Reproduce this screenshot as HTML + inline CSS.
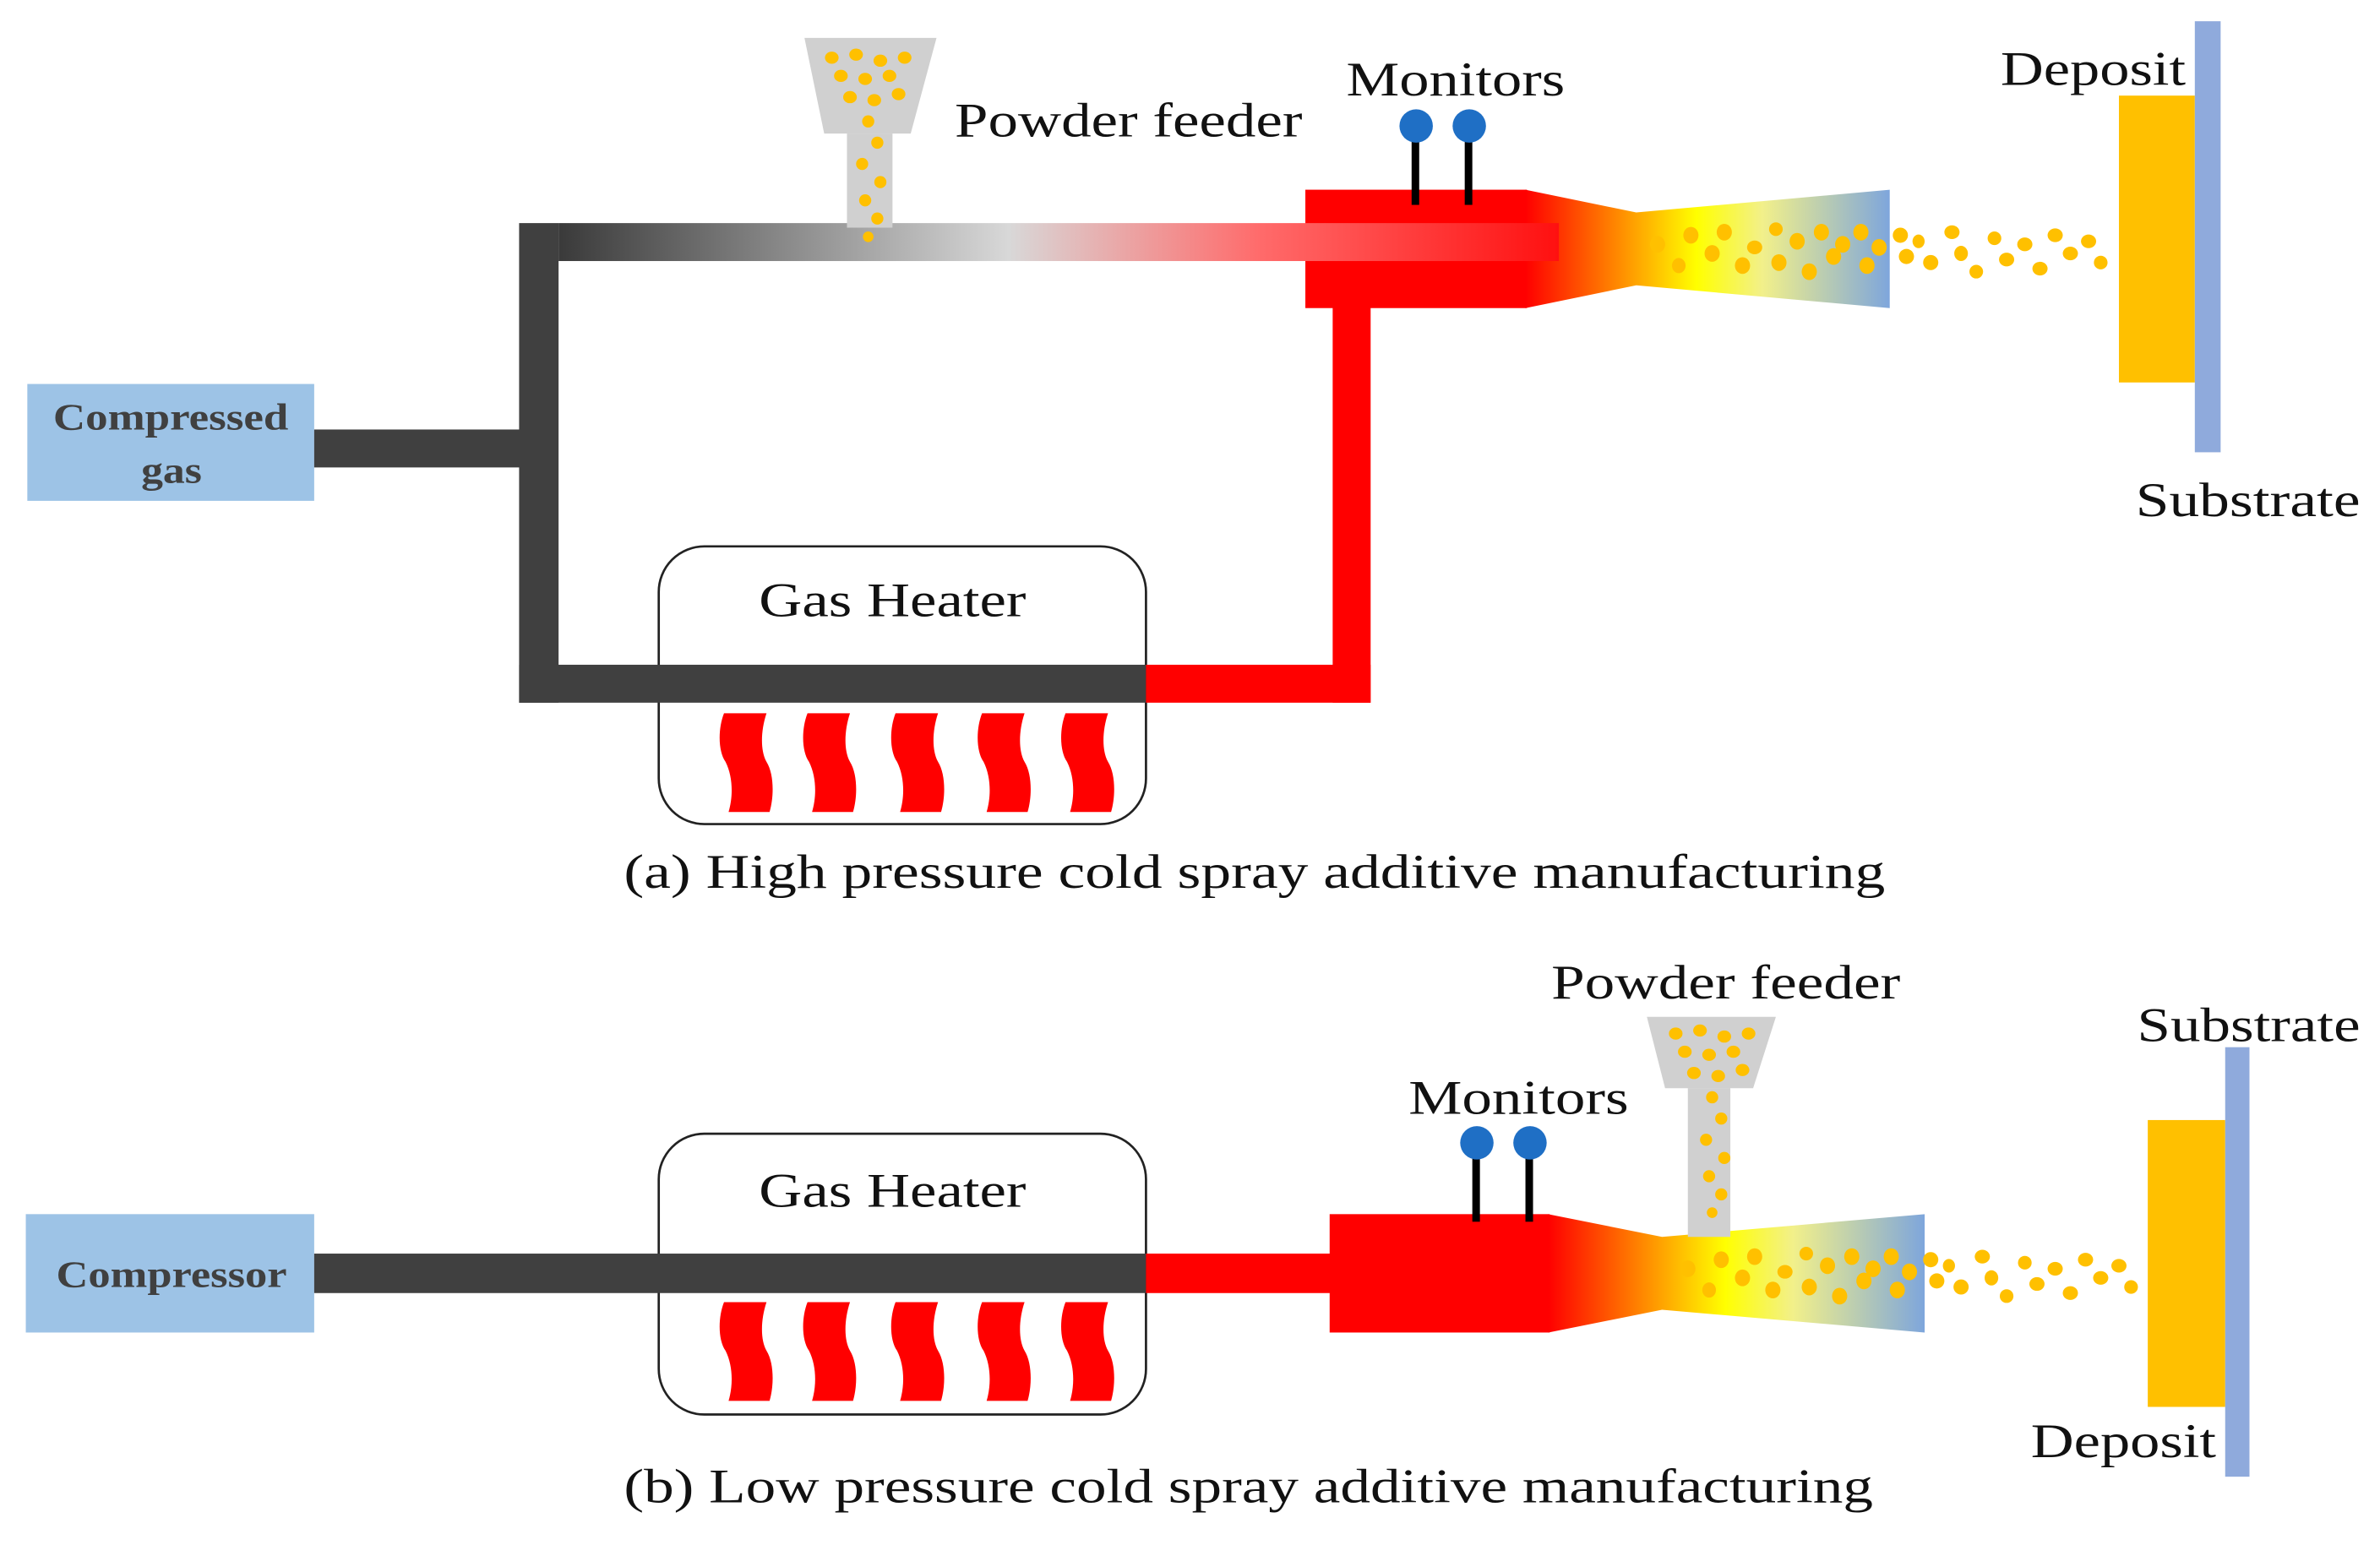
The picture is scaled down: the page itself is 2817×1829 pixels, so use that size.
<!DOCTYPE html>
<html><head><meta charset="utf-8"><style>
html,body{margin:0;padding:0;background:#fff}
svg{display:block}
text{font-family:"Liberation Serif",serif;fill:#111}
</style></head><body>
<svg width="2817" height="1829" viewBox="0 0 1568 1018" preserveAspectRatio="none" xmlns="http://www.w3.org/2000/svg">
<defs>
<linearGradient id="pipeA" x1="0" x2="1" y1="0" y2="0">
<stop offset="0" stop-color="#3a3a3a"/><stop offset="0.45" stop-color="#d8d8d8"/><stop offset="0.7" stop-color="#ff6b6b"/><stop offset="1" stop-color="#ff1010"/>
</linearGradient>
<linearGradient id="noz" x1="0" x2="1" y1="0" y2="0">
<stop offset="0" stop-color="#ff0000"/><stop offset="0.47" stop-color="#ffff00"/><stop offset="0.65" stop-color="#f2f08a"/><stop offset="1" stop-color="#7ea6dc"/>
</linearGradient>
<path id="fl" d="M2,0 L30,0 C26,12 26,25 30,32 C35,40 35,55 32,65 L5,65 C8,55 8,42 3,32 C-2,25 -2,10 2,0 Z" fill="#ff0000"/>
<g id="dots" fill="#ffc000">
<ellipse cx="0" cy="-4" rx="5" ry="5.5"/><ellipse cx="14" cy="10" rx="4.5" ry="5"/><ellipse cx="22" cy="-10" rx="5" ry="5.5"/><ellipse cx="36" cy="2" rx="5" ry="5.5"/><ellipse cx="44" cy="-12" rx="5" ry="5.5"/><ellipse cx="56" cy="10" rx="5" ry="5.5"/><ellipse cx="64" cy="-2" rx="5" ry="4.5"/><ellipse cx="78" cy="-14" rx="4.5" ry="4.5"/><ellipse cx="80" cy="8" rx="5" ry="5.5"/><ellipse cx="92" cy="-6" rx="5" ry="5.5"/><ellipse cx="100" cy="14" rx="5" ry="5.5"/><ellipse cx="108" cy="-12" rx="5" ry="5.5"/><ellipse cx="116" cy="4" rx="5" ry="5.5"/><ellipse cx="122" cy="-4" rx="5" ry="5.5"/><ellipse cx="134" cy="-12" rx="5" ry="5.5"/><ellipse cx="138" cy="10" rx="5" ry="5.5"/><ellipse cx="146" cy="-2" rx="5" ry="5.5"/><ellipse cx="160" cy="-10" rx="5" ry="5"/><ellipse cx="164" cy="4" rx="5" ry="5"/><ellipse cx="172" cy="-6" rx="4" ry="4.5"/><ellipse cx="180" cy="8" rx="5" ry="5"/><ellipse cx="194" cy="-12" rx="5" ry="4.5"/><ellipse cx="200" cy="2" rx="4.5" ry="5"/><ellipse cx="210" cy="14" rx="4.5" ry="4.5"/><ellipse cx="222" cy="-8" rx="4.5" ry="4.5"/><ellipse cx="230" cy="6" rx="5" ry="4.5"/><ellipse cx="242" cy="-4" rx="5" ry="4.5"/><ellipse cx="252" cy="12" rx="5" ry="4.5"/><ellipse cx="262" cy="-10" rx="5" ry="4.5"/><ellipse cx="272" cy="2" rx="5" ry="4.5"/><ellipse cx="284" cy="-6" rx="5" ry="4.5"/><ellipse cx="292" cy="8" rx="4.5" ry="4.5"/>
</g>
<g id="feedDots" fill="#ffc000">
<ellipse cx="12" cy="8" rx="4.5" ry="4"/><ellipse cx="28" cy="6" rx="4.5" ry="4"/><ellipse cx="44" cy="10" rx="4.5" ry="4"/><ellipse cx="60" cy="8" rx="4.5" ry="4"/><ellipse cx="18" cy="20" rx="4.5" ry="4"/><ellipse cx="34" cy="22" rx="4.5" ry="4"/><ellipse cx="50" cy="20" rx="4.5" ry="4"/><ellipse cx="24" cy="34" rx="4.5" ry="4"/><ellipse cx="40" cy="36" rx="4.5" ry="4"/><ellipse cx="56" cy="32" rx="4.5" ry="4"/><ellipse cx="36" cy="50" rx="4" ry="4"/><ellipse cx="42" cy="64" rx="4" ry="4"/><ellipse cx="32" cy="78" rx="4" ry="4"/><ellipse cx="44" cy="90" rx="4" ry="4"/><ellipse cx="34" cy="102" rx="4" ry="4"/><ellipse cx="42" cy="114" rx="4" ry="4"/><ellipse cx="36" cy="126" rx="3.5" ry="3.5"/>
</g>
</defs>

<!-- Panel A -->
<rect x="18" y="253" width="189" height="77" fill="#9dc3e6"/>
<text x="35" y="283" font-size="25" font-weight="bold" textLength="155" lengthAdjust="spacingAndGlyphs" style="fill:#404040">Compressed</text>
<text x="93" y="318" font-size="25" font-weight="bold" textLength="40" lengthAdjust="spacingAndGlyphs" style="fill:#404040">gas</text>
<rect x="207" y="283" width="150" height="25" fill="#404040"/>
<rect x="342" y="147" width="26" height="316" fill="#404040"/>
<rect x="434" y="360" width="321" height="183" rx="30" fill="#fff" stroke="#222" stroke-width="1.5"/>
<text x="500" y="406" font-size="32" textLength="176" lengthAdjust="spacingAndGlyphs">Gas Heater</text>
<rect x="342" y="438" width="413" height="25" fill="#404040"/>
<rect x="755" y="438" width="148" height="25" fill="#ff0000"/>
<rect x="878" y="195" width="25" height="268" fill="#ff0000"/>
<g><use href="#fl" x="475" y="470"/><use href="#fl" x="530" y="470"/><use href="#fl" x="588" y="470"/><use href="#fl" x="645" y="470"/><use href="#fl" x="700" y="470"/></g>
<rect x="860" y="125" width="146" height="78" fill="#ff0000"/>
<path d="M1005,125 L1078,140 L1245,125 L1245,203 L1078,188 L1005,203 Z" fill="url(#noz)"/>
<rect x="368" y="147" width="659" height="25" fill="url(#pipeA)"/>
<path d="M530,25 L617,25 L600,88 L543,88 Z" fill="#d0d0d0"/>
<rect x="558" y="88" width="30" height="62" fill="#d0d0d0"/>
<use href="#feedDots" x="536" y="30"/>
<rect x="930" y="85" width="5" height="50" fill="#000"/><rect x="965" y="85" width="5" height="50" fill="#000"/>
<circle cx="933" cy="83" r="11" fill="#1f6fc5"/><circle cx="968" cy="83" r="11" fill="#1f6fc5"/>
<use href="#dots" x="1092" y="165"/>
<rect x="1396" y="63" width="50" height="189" fill="#ffc000"/>
<rect x="1446" y="14" width="17" height="284" fill="#8faadc"/>
<text x="629" y="90" font-size="32" textLength="229" lengthAdjust="spacingAndGlyphs">Powder feeder</text>
<text x="887" y="63" font-size="32" textLength="144" lengthAdjust="spacingAndGlyphs">Monitors</text>
<text x="1318" y="56" font-size="32" textLength="122" lengthAdjust="spacingAndGlyphs">Deposit</text>
<text x="1407" y="340" font-size="32" textLength="148" lengthAdjust="spacingAndGlyphs">Substrate</text>
<text x="411" y="585" font-size="32" textLength="831" lengthAdjust="spacingAndGlyphs">(a) High pressure cold spray additive manufacturing</text>

<!-- Panel B -->
<rect x="17" y="800" width="190" height="78" fill="#9dc3e6"/>
<text x="37" y="848" font-size="25" font-weight="bold" textLength="152" lengthAdjust="spacingAndGlyphs" style="fill:#404040">Compressor</text>
<rect x="434" y="747" width="321" height="185" rx="30" fill="#fff" stroke="#222" stroke-width="1.5"/>
<text x="500" y="795" font-size="32" textLength="176" lengthAdjust="spacingAndGlyphs">Gas Heater</text>
<rect x="207" y="826" width="548" height="26" fill="#404040"/>
<rect x="755" y="826" width="125" height="26" fill="#ff0000"/>
<g><use href="#fl" x="475" y="858"/><use href="#fl" x="530" y="858"/><use href="#fl" x="588" y="858"/><use href="#fl" x="645" y="858"/><use href="#fl" x="700" y="858"/></g>
<rect x="876" y="800" width="145" height="78" fill="#ff0000"/>
<path d="M1020,800 L1095,815 L1268,800 L1268,878 L1095,863 L1020,878 Z" fill="url(#noz)"/>
<path d="M1085,670 L1170,670 L1155,717 L1097,717 Z" fill="#d0d0d0"/>
<rect x="1112" y="717" width="28" height="98" fill="#d0d0d0"/>
<use href="#feedDots" x="1092" y="673"/>
<rect x="970" y="755" width="5" height="50" fill="#000"/><rect x="1005" y="755" width="5" height="50" fill="#000"/>
<circle cx="973" cy="753" r="11" fill="#1f6fc5"/><circle cx="1008" cy="753" r="11" fill="#1f6fc5"/>
<use href="#dots" x="1112" y="840"/>
<rect x="1415" y="738" width="51" height="189" fill="#ffc000"/>
<rect x="1466" y="690" width="16" height="283" fill="#8faadc"/>
<text x="1022" y="658" font-size="32" textLength="230" lengthAdjust="spacingAndGlyphs">Powder feeder</text>
<text x="1408" y="686" font-size="32" textLength="147" lengthAdjust="spacingAndGlyphs">Substrate</text>
<text x="928" y="734" font-size="32" textLength="145" lengthAdjust="spacingAndGlyphs">Monitors</text>
<text x="1338" y="960" font-size="32" textLength="122" lengthAdjust="spacingAndGlyphs">Deposit</text>
<text x="411" y="990" font-size="32" textLength="823" lengthAdjust="spacingAndGlyphs">(b) Low pressure cold spray additive manufacturing</text>
</svg>
</body></html>
